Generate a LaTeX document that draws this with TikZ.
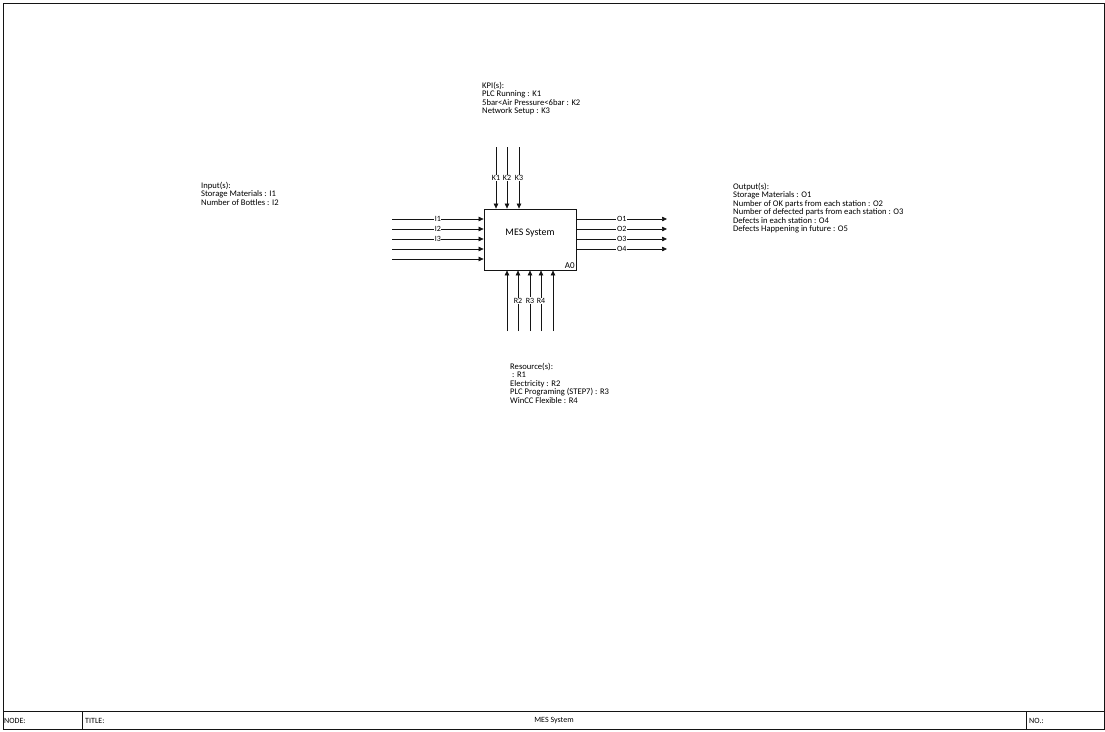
\documentclass[tikz,border=0pt]{standalone}
\usepackage{fontspec}
\setmainfont{Carlito}
\usepackage{xcolor}
\usetikzlibrary{arrows.meta, positioning, calc}
\definecolor{frameblack}{RGB}{20,20,20}

\tikzset{
  flow/.style={-{Triangle[length=5pt,width=4.5pt]}, line width=0.6pt, draw=frameblack},
  tag/.style={fill=white, inner sep=0.6pt, font=\fontsize{8}{8}\selectfont},
  notes/.style={anchor=north west, align=left, inner sep=0pt,
                font=\fontsize{8.6}{8.5}\selectfont},
  cellhead/.style={anchor=west, inner sep=0pt, font=\fontsize{8}{8}\selectfont}
}

\begin{document}
\begin{tikzpicture}[x=1pt, y=-1pt]
    \useasboundingbox (0,0) rectangle (1105,731);

    % sheet frame and title bar
    \draw[frameblack, line width=0.8pt] (3,3) rectangle (1104,729);
    \draw[frameblack, line width=0.8pt] (3,711) -- (1104,711);
    \draw[frameblack, line width=0.8pt] (82,711) -- (82,729);
    \draw[frameblack, line width=0.8pt] (1026,711) -- (1026,729);
    \node[cellhead] (nodecell) at (4,720.5) {NODE:};
    \node[cellhead] (titlecell) at (85,720.5) {TITLE:};
    \node[cellhead, anchor=center] (titletext) at (554,720.5) {MES System};
    \node[cellhead] (nocell) at (1029,720.5) {NO.:};

    % activity box
    \node[draw=frameblack, line width=0.8pt, minimum width=92pt,
          minimum height=61pt, inner sep=0pt] (mes) at (530,239.5) {};
    \node[font=\fontsize{10}{10}\selectfont] (mestext)
          at ([yshift=6pt]mes.center) {MES System};
    \node[anchor=south east, inner sep=1.5pt,
          font=\fontsize{9}{9}\selectfont] (a0) at (mes.south east) {A0};

    % inputs
    \foreach \y [count=\i] in {219,229,239,249,259} {
      \coordinate (in\i) at (392,\y);
      \draw[flow] (in\i) -- (mes.west |- in\i);
    }
    \foreach \i in {1,2,3}
      \node[tag] (inlab\i) at ($(in\i)!0.5!(mes.west |- in\i)$) {I\i};

    % outputs
    \foreach \y [count=\i] in {219,229,239,249} {
      \coordinate (out\i) at (667,\y);
      \draw[flow] (mes.east |- out\i) -- (out\i);
      \node[tag] (outlab\i) at ($(mes.east |- out\i)!0.5!(out\i)$) {O\i};
    }

    % controls
    \foreach \x [count=\i] in {496,507,519} {
      \coordinate (kpi\i) at (\x,147);
      \draw[flow] (kpi\i) -- (mes.north -| kpi\i);
      \node[tag] (kpilab\i) at ($(kpi\i)!0.5!(mes.north -| kpi\i)$) {K\i};
    }

    % resources
    \foreach \x [count=\i] in {507,518,530,541,553} {
      \coordinate (res\i) at (\x,331);
      \draw[flow] (res\i) -- (mes.south -| res\i);
    }
    \foreach \i in {2,3,4}
      \node[tag] (reslab\i) at ($(res\i)!0.5!(mes.south -| res\i)$) {R\i};

    % side notes
    \node[notes] (kpinote) at (482,82) {KPI(s):\\PLC Running : K1\\
      5bar<Air Pressure<6bar : K2\\Network Setup : K3};
    \node[notes] (innote) at (201,182) {Input(s):\\Storage Materials : I1\\
      Number of Bottles : I2};
    \node[notes] (outnote) at (733,183) {Output(s):\\Storage Materials : O1\\
      Number of OK parts from each station : O2\\
      Number of defected parts from each station : O3\\
      Defects in each station : O4\\Defects Happening in future : O5};
    \node[notes] (resnote) at (510,363) {Resource(s):\\\ : R1\\
      Electricity : R2\\PLC Programing (STEP7) : R3\\WinCC Flexible : R4};
\end{tikzpicture}
\end{document}
